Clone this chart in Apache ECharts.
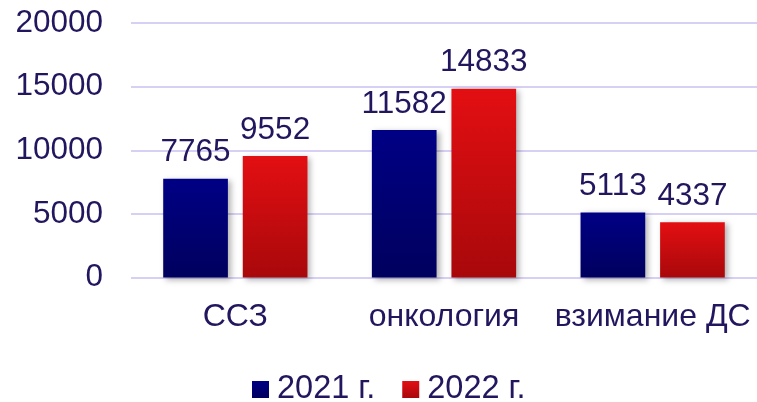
<!DOCTYPE html>
<html>
<head>
<meta charset="utf-8">
<script src="https://cdn.jsdelivr.net/npm/echarts@6/dist/echarts.min.js"></script>
<style>html,body{margin:0;padding:0;background:#fff}#c{width:757px;height:402px}</style>
</head>
<body>
<div id="c"></div>
<script>
const categories = ['ССЗ', 'онкология', 'взимание ДС'];
const values2021 = [7765, 11582, 5113];
const values2022 = [9552, 14833, 4337];
const seriesNames = ['2021 г.', '2022 г.'];
const yTicks = [0, 5000, 10000, 15000, 20000];

const textColor = '#22175E';
const font = 'Liberation Sans, Arial, sans-serif';
const blueGrad = new echarts.graphic.LinearGradient(0, 0, 0, 1, [
  {offset: 0, color: '#000085'}, {offset: 1, color: '#00005E'}]);
const redGrad = new echarts.graphic.LinearGradient(0, 0, 0, 1, [
  {offset: 0, color: '#E30F12'}, {offset: 1, color: '#A8080B'}]);

const chart = echarts.init(document.getElementById('c'), null, {renderer: 'canvas'});
const labelCfg = {show: true, position: 'top', distance: 10, color: textColor, fontSize: 31.5, fontFamily: font};
const shadow = {shadowBlur: 6, shadowOffsetX: 3, shadowOffsetY: 2, shadowColor: 'rgba(0,0,0,0.3)'};
chart.setOption({
  animation: false,
  grid: {left: 131, right: 0, top: 23, bottom: 124.5, containLabel: false},
  legend: {
    bottom: -4, left: 252, padding: 0, itemWidth: 17, itemHeight: 17, itemGap: 27,
    icon: 'rect',
    textStyle: {color: textColor, fontSize: 32.5, fontFamily: font, padding: [0, 0, 0, 3]},
    data: seriesNames
  },
  xAxis: {
    type: 'category', data: categories,
    axisLine: {show: false}, axisTick: {show: false},
    axisLabel: {color: textColor, fontSize: 32, fontFamily: font, margin: 24, interval: 0}
  },
  yAxis: {
    type: 'value', min: yTicks[0], max: yTicks[yTicks.length - 1], interval: 5000,
    axisLine: {show: false}, axisTick: {show: false},
    axisLabel: {color: textColor, fontSize: 31.5, fontFamily: font, margin: 28, formatter: v => String(v)},
    splitLine: {lineStyle: {color: '#D8CFF5', width: 2}}
  },
  series: [
    {name: seriesNames[0], type: 'bar', data: values2021, barWidth: '31%', barGap: '23%',
     itemStyle: Object.assign({color: blueGrad}, shadow), label: labelCfg},
    {name: seriesNames[1], type: 'bar', data: values2022, barWidth: '31%', barGap: '23%',
     itemStyle: Object.assign({color: redGrad}, shadow), label: labelCfg}
  ]
});
</script>
</body>
</html>
